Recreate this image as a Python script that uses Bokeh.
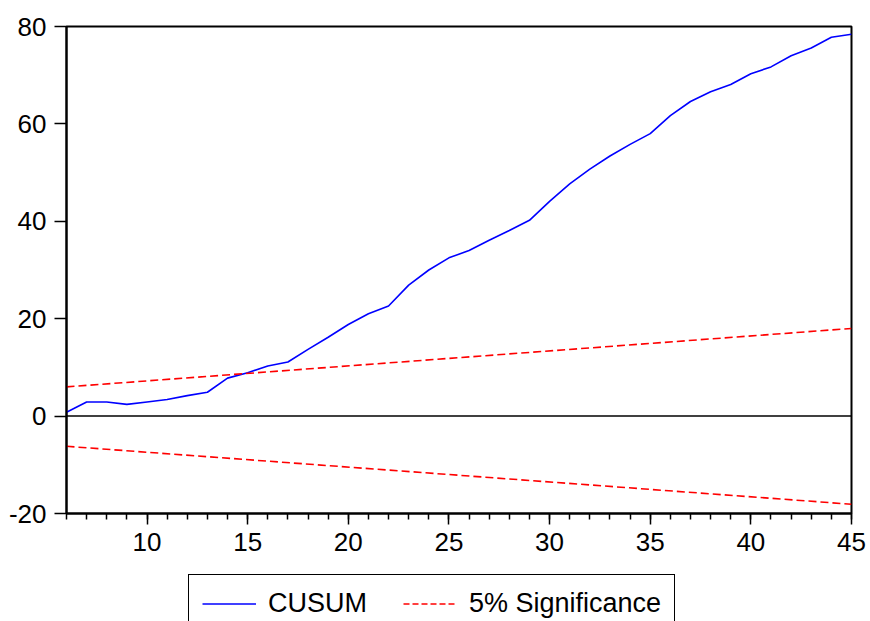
from bokeh.plotting import figure
from bokeh.layouts import column
from bokeh.models import Range1d, FixedTicker, Span, Legend, LegendItem
from bokeh.embed import file_html
from bokeh.resources import INLINE

# ---- data ----
obs = list(range(6, 46))
cusum = [0.8, 2.9, 2.9, 2.4, 2.9, 3.4, 4.2, 4.9, 7.8, 8.9,
         10.3, 11.1, 13.7, 16.2, 18.8, 21.0, 22.6, 26.9, 30.0, 32.5,
         34.0, 36.1, 38.1, 40.2, 44.1, 47.7, 50.7, 53.4, 55.8, 58.0,
         61.7, 64.6, 66.6, 68.1, 70.3, 71.7, 74.0, 75.6, 77.8, 78.4]
bound_x = [6, 45]
upper_bound = [6.0, 18.0]
lower_bound = [-6.2, -18.1]
x_ticks = [10, 15, 20, 25, 30, 35, 40, 45]
y_ticks = [-20, 0, 20, 40, 60, 80]

FONT = "Liberation Sans"
BLUE = "#0000FF"
RED = "#FF0000"

# ---------------- main chart ----------------
p = figure(width=870, height=566, output_backend="svg", toolbar_location=None,
           x_range=Range1d(6, 45), y_range=Range1d(-20, 80),
           min_border_left=66, min_border_top=26, min_border_right=19,
           min_border_bottom=53)
p.xgrid.visible = False
p.ygrid.visible = False
p.outline_line_color = "black"
p.outline_line_width = 2
p.outline_line_alpha = 1
p.background_fill_color = "white"
p.border_fill_color = "white"

xa = p.xaxis[0]
xa.ticker = FixedTicker(ticks=x_ticks, minor_ticks=obs)
xa.axis_line_width = 2
xa.major_tick_in = 0
xa.major_tick_out = 11
xa.minor_tick_in = 0
xa.minor_tick_out = 6
xa.major_tick_line_width = 1.5
xa.minor_tick_line_width = 1.5
xa.major_label_text_font = FONT
xa.major_label_text_font_size = "26px"
xa.major_label_text_color = "black"
xa.major_label_standoff = 8

ya = p.yaxis[0]
ya.ticker = FixedTicker(ticks=y_ticks, minor_ticks=[])
ya.axis_line_width = 2
ya.major_tick_in = 0
ya.major_tick_out = 12
ya.minor_tick_line_color = None
ya.major_tick_line_width = 1.5
ya.major_label_text_font = FONT
ya.major_label_text_font_size = "26px"
ya.major_label_text_color = "black"
ya.major_label_standoff = 8
ya.major_label_overrides = {-20: "-20"}

p.add_layout(Span(location=0, dimension="width", line_color="black", line_width=1.5))

p.line(obs, cusum, line_color=BLUE, line_width=1.6)
p.line(bound_x, upper_bound, line_color=RED, line_width=1.6, line_dash="8 4")
p.line(bound_x, lower_bound, line_color=RED, line_width=1.6, line_dash="8 4")

# ---------------- legend strip ----------------
lg = figure(width=870, height=55, output_backend="svg", toolbar_location=None,
            x_range=Range1d(6, 45), y_range=Range1d(1000, 1001),
            x_axis_type=None, y_axis_type=None,
            min_border_left=0, min_border_right=0, min_border_top=0,
            min_border_bottom=0)
lg.xgrid.visible = False
lg.ygrid.visible = False
lg.outline_line_color = None
lg.background_fill_color = "white"
lg.border_fill_color = "white"

l_cusum = lg.line(obs, cusum, line_color=BLUE, line_width=1.6)
l_up = lg.line(bound_x, upper_bound, line_color=RED, line_width=1.6, line_dash="6 3")

legend = Legend(items=[LegendItem(label="CUSUM", renderers=[l_cusum]),
                       LegendItem(label="5% Significance", renderers=[l_up])],
                orientation="horizontal", location=(122, -12),
                glyph_width=54, glyph_height=25, label_standoff=12, spacing=36,
                padding=13, margin=0,
                label_text_font=FONT, label_text_font_size="27px",
                label_text_color="black",
                border_line_color="black", border_line_width=1.5,
                border_line_alpha=1,
                background_fill_color="white", background_fill_alpha=1)
lg.add_layout(legend, "center")

layout = column(p, lg, spacing=0)
open("out.html", "w").write(file_html(layout, INLINE))
